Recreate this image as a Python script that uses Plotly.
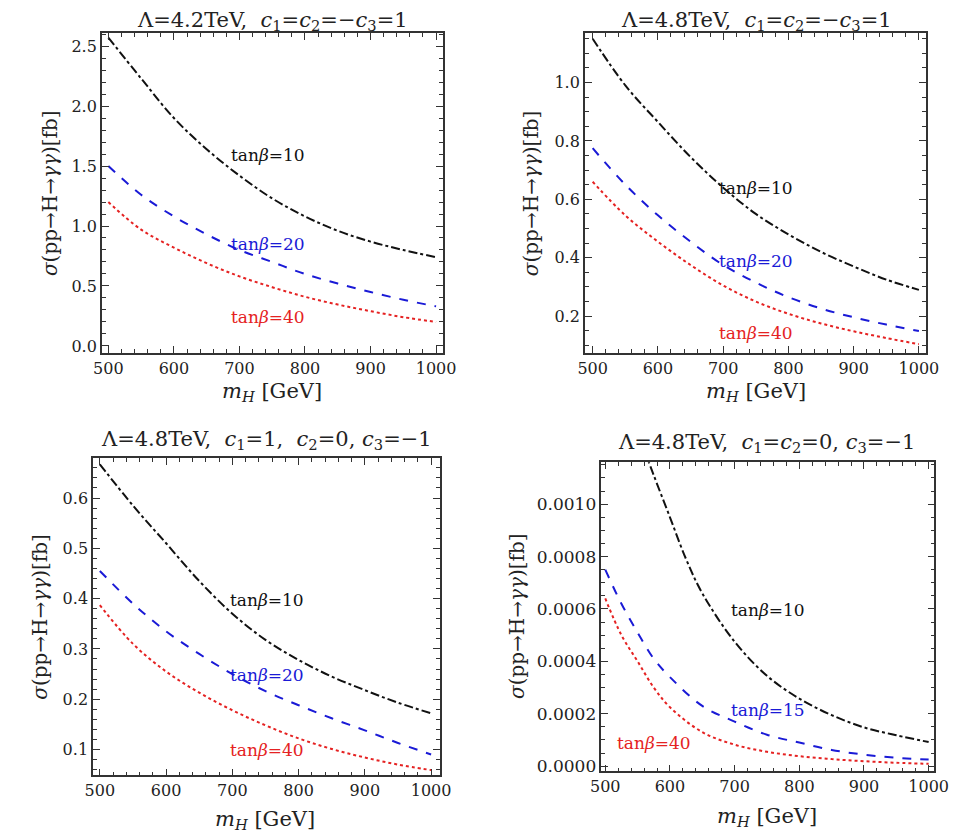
import plotly.graph_objects as go

W, H = 958, 836

# ---------------- data ----------------
mH = [500, 550, 600, 650, 700, 750, 800, 850, 900, 950, 1000]

p1_tb10 = [2.57, 2.23, 1.90, 1.64, 1.42, 1.23, 1.08, 0.96, 0.87, 0.80, 0.74]
p1_tb20 = [1.50, 1.26, 1.08, 0.93, 0.80, 0.70, 0.60, 0.52, 0.45, 0.385, 0.33]
p1_tb40 = [1.20, 0.97, 0.82, 0.69, 0.58, 0.49, 0.41, 0.345, 0.29, 0.24, 0.20]

p2_tb10 = [1.15, 0.99, 0.865, 0.745, 0.64, 0.55, 0.48, 0.42, 0.37, 0.325, 0.29]
p2_tb20 = [0.775, 0.65, 0.545, 0.455, 0.375, 0.315, 0.265, 0.226, 0.196, 0.171, 0.149]
p2_tb40 = [0.66, 0.545, 0.455, 0.375, 0.305, 0.25, 0.208, 0.175, 0.148, 0.125, 0.104]

p3_tb10 = [0.667, 0.585, 0.51, 0.435, 0.37, 0.318, 0.278, 0.245, 0.218, 0.193, 0.172]
p3_tb20 = [0.455, 0.39, 0.335, 0.29, 0.25, 0.216, 0.188, 0.162, 0.138, 0.113, 0.09]
p3_tb40 = [0.387, 0.31, 0.255, 0.213, 0.178, 0.148, 0.122, 0.101, 0.084, 0.07, 0.059]

mH4_tb10 = [560, 575, 600, 625, 650, 700, 750, 800, 850, 900, 950, 1000]
p4_tb10 = [0.00121, 0.00111, 0.00095, 0.00079, 0.00066, 0.000475, 0.000345,
           0.000258, 0.000195, 0.000148, 0.000118, 0.000092]
mH4 = [500, 525, 550, 575, 600, 650, 700, 750, 800, 850, 900, 950, 1000]
p4_tb15 = [0.00075, 0.00062, 0.00051, 0.00041, 0.00034, 0.00023, 0.00017,
           0.00012, 0.00009, 0.000062, 0.000044, 0.000032, 0.000025]
p4_tb40 = [0.00064, 0.00050, 0.00040, 0.00030, 0.000225, 0.000130, 0.000082,
           0.000055, 0.000038, 0.000027, 0.000019, 0.000013, 0.000009]

titles = [
    "Λ=4.2TeV,\u00a0 <i>c</i><sub>1</sub>=<i>c</i><sub>2</sub>=−<i>c</i><sub>3</sub>=1",
    "Λ=4.8TeV,\u00a0 <i>c</i><sub>1</sub>=<i>c</i><sub>2</sub>=−<i>c</i><sub>3</sub>=1",
    "Λ=4.8TeV,\u00a0 <i>c</i><sub>1</sub>=1,\u00a0 <i>c</i><sub>2</sub>=0, <i>c</i><sub>3</sub>=−1",
    "Λ=4.8TeV,\u00a0 <i>c</i><sub>1</sub>=<i>c</i><sub>2</sub>=0, <i>c</i><sub>3</sub>=−1",
]
ytitle = "<i>σ</i>(pp→H→<i>γγ</i>)[fb]"
xtitle = "<i>m</i><sub><i>H</i></sub> [GeV]"

# ---------------- styles / layout ----------------
FONT = "DejaVu Serif, Liberation Serif, serif"
TXT = "#222222"
BLACK, BLUE, RED = "#111111", "#1a1ad6", "#e52222"

# panel frames in pixels: left, top, right, bottom
frames = [(85, 25, 435, 347), (581, 25, 931, 347), (76, 453, 432, 772), (598, 457, 940, 768)]
xranges = [[490, 1010], [488, 1010.4], [489.7, 1013], [494, 1009]]
yranges = [[-0.058, 2.61], [0.074, 1.17], [0.0485, 0.679], [-0.00002, 0.00116]]
ydticks = [0.5, 0.2, 0.1, 0.0002]
yminor = [0.1, 0.05, 0.02, 0.00005]
yfmt = [".1f", ".1f", ".1f", ".4f"]
ytickfont = [16, 16, 16, 17]

series = [
    [(mH, p1_tb10), (mH, p1_tb20), (mH, p1_tb40)],
    [(mH, p2_tb10), (mH, p2_tb20), (mH, p2_tb40)],
    [(mH, p3_tb10), (mH, p3_tb20), (mH, p3_tb40)],
    [(mH4_tb10, p4_tb10), (mH4, p4_tb15), (mH4, p4_tb40)],
]
styles = [(BLACK, "dashdot"), (BLUE, "dash"), (RED, "dot")]

labels = [
    [("tan<i>β</i>=10", 743, 1.59), ("tan<i>β</i>=20", 743, 0.85), ("tan<i>β</i>=40", 743, 0.24)],
    [("tan<i>β</i>=10", 751, 0.64), ("tan<i>β</i>=20", 751, 0.39), ("tan<i>β</i>=40", 751, 0.143)],
    [("tan<i>β</i>=10", 752, 0.398), ("tan<i>β</i>=20", 752, 0.248), ("tan<i>β</i>=40", 752, 0.099)],
    [("tan<i>β</i>=10", 752, 0.000595), ("tan<i>β</i>=15", 752, 0.000215), ("tan<i>β</i>=40", 575, 0.000088)],
]

title_pos = [(260, 13), (757, 13), (254, 435), (768, 438)]
xtitle_pos = [(260, 386), (757, 386), (253, 817), (768, 814)]
ytitle_pos = [(32, 186), (526, 186), (22, 612), (512, 612)]

fig = go.Figure()
layout = dict(
    width=W, height=H, margin=dict(l=0, r=0, t=0, b=0),
    paper_bgcolor="white", plot_bgcolor="white", showlegend=False,
    font=dict(family=FONT, color=TXT, size=16),
)
annotations = []

for i in range(4):
    n = "" if i == 0 else str(i + 1)
    xa, ya = "x" + n, "y" + n
    L, T, R, B = frames[i]
    for (xs, ys), (col, dash) in zip(series[i], styles):
        fig.add_trace(go.Scatter(
            x=xs, y=ys, xaxis=xa, yaxis=ya, mode="lines",
            line=dict(color=col, dash=dash, width=2, shape="spline", smoothing=1.0),
            hoverinfo="skip"))
    common = dict(
        showline=True, linecolor="#333333", linewidth=1.5, mirror="ticks",
        ticks="inside", ticklen=7, tickwidth=1.2, tickcolor="#333333",
        showgrid=False, zeroline=False,
    )
    layout["xaxis" + n] = dict(
        common, domain=[L / W, R / W], anchor=ya, range=xranges[i],
        tick0=500, dtick=100, tickfont=dict(family=FONT, size=16, color=TXT),
        minor=dict(ticks="inside", ticklen=4, dtick=20, tick0=500, tickcolor="#333333"),
    )
    layout["yaxis" + n] = dict(
        common, domain=[1 - B / H, 1 - T / H], anchor=xa, range=yranges[i],
        tick0=0, dtick=ydticks[i], tickformat=yfmt[i],
        tickfont=dict(family=FONT, size=ytickfont[i], color=TXT),
        minor=dict(ticks="inside", ticklen=4, dtick=yminor[i], tick0=0, tickcolor="#333333"),
    )
    for (txt, lx, ly), (col, _) in zip(labels[i], styles):
        annotations.append(dict(
            text=txt, x=lx, y=ly, xref=xa, yref=ya, showarrow=False,
            font=dict(family=FONT, size=17, color=col), xanchor="center", yanchor="middle"))
    tx, ty = title_pos[i]
    annotations.append(dict(text=titles[i], x=tx / W, y=1 - ty / H, xref="paper", yref="paper",
                            showarrow=False, font=dict(family=FONT, size=21, color=TXT),
                            xanchor="center", yanchor="middle"))
    tx, ty = xtitle_pos[i]
    annotations.append(dict(text=xtitle, x=tx / W, y=1 - ty / H, xref="paper", yref="paper",
                            showarrow=False, font=dict(family=FONT, size=21, color=TXT),
                            xanchor="center", yanchor="middle"))
    tx, ty = ytitle_pos[i]
    annotations.append(dict(text=ytitle, x=tx / W, y=1 - ty / H, xref="paper", yref="paper",
                            showarrow=False, textangle=-90,
                            font=dict(family=FONT, size=20, color=TXT),
                            xanchor="center", yanchor="middle"))

layout["annotations"] = annotations
fig.update_layout(**layout)
fig.write_html("out.html")
